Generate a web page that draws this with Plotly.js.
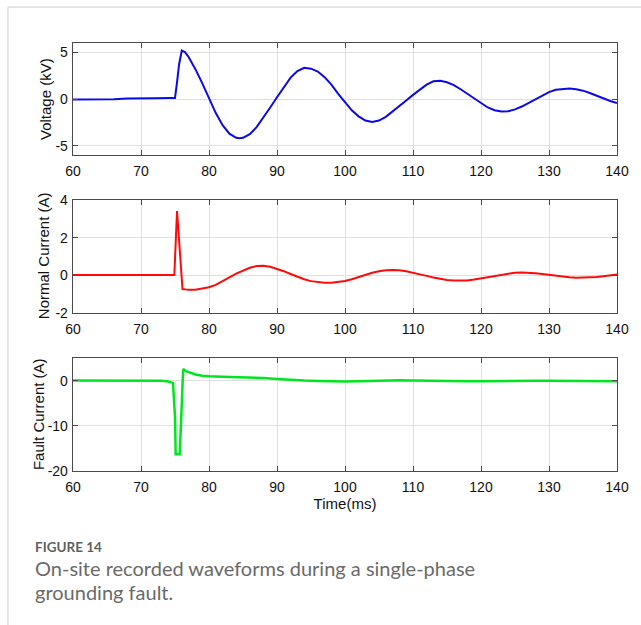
<!DOCTYPE html>
<html>
<head>
<meta charset="utf-8">
<script src="https://cdn.plot.ly/plotly-3.0.1.min.js"></script>
<style>
  html, body { margin: 0; padding: 0; background: #ffffff; }
  #chart { width: 641px; height: 625px; }
</style>
</head>
<body>
<div id="chart"></div>
<script>
// ---- Data ----
const timeV = [60,62,64,66,68,70,72,74,75,75.3,75.6,76,76.5,77,78,79,80,81,82,83,84,84.5,85,86,87,88,89,90,
  91,92,93,94,95,96,97,98,99,100,101,102,103,104,105,106,107,108,109,110,111,112,113,114,115,116,117,118,119,120,
  121,122,123,124,125,126,127,128,129,130,131,132,133,134,135,136,137,138,139,140];
const voltage = [-0.05,-0.05,-0.05,-0.03,0.05,0.1,0.1,0.12,0.12,1.8,3.7,5.2,5.0,4.5,3.2,1.7,0.05,-1.5,-2.8,-3.7,-4.15,-4.2,-4.15,-3.75,-3.0,-2.0,-0.9,0.2,
  1.3,2.3,3.0,3.35,3.25,2.95,2.35,1.55,0.55,-0.35,-1.2,-1.85,-2.3,-2.45,-2.3,-1.9,-1.35,-0.75,-0.15,0.45,1.05,1.55,1.9,1.95,1.8,1.5,1.05,0.55,0.05,-0.45,
  -0.9,-1.2,-1.34,-1.3,-1.1,-0.8,-0.4,0.0,0.4,0.75,1.0,1.1,1.12,1.05,0.9,0.65,0.35,0.05,-0.2,-0.42];

const timeN = [60,70,74.9,75.3,76.1,76.5,77,78,79,80,81,82,83,84,85,86,87,88,89,90,
  91,92,93,94,95,96,97,98,99,100,101,102,103,104,105,106,107,108,109,110,111,112,113,114,115,116,117,118,119,120,
  121,122,123,124,125,126,127,128,129,130,131,132,133,134,135,136,137,138,139,140];
const normalCurrent = [0,0,0,3.42,-0.74,-0.76,-0.78,-0.78,-0.72,-0.65,-0.52,-0.34,-0.12,0.08,0.25,0.39,0.48,0.5,0.45,0.35,
  0.21,0.06,-0.09,-0.22,-0.32,-0.38,-0.41,-0.41,-0.37,-0.31,-0.22,-0.1,0.02,0.13,0.21,0.26,0.27,0.26,0.21,0.14,0.05,-0.04,-0.13,-0.2,-0.26,-0.29,-0.3,-0.28,-0.23,-0.17,
  -0.1,-0.03,0.04,0.1,0.13,0.14,0.13,0.1,0.06,0.01,-0.04,-0.09,-0.12,-0.14,-0.14,-0.13,-0.1,-0.06,-0.01,0.03];

const timeF = [60,70,73,74,74.7,75.0,75.1,75.7,75.9,76.2,76.6,77.2,78,79,80,82,84,86,88,90,92,94,96,98,100,
  102,104,106,108,110,112,114,116,118,120,122,124,126,128,130,132,134,136,138,140];
const faultCurrent = [0,0,-0.05,-0.2,-0.5,-8,-16.3,-16.3,-8,2.55,2.1,1.7,1.35,1.1,0.95,0.85,0.78,0.68,0.55,0.37,0.15,0.0,-0.1,-0.2,-0.2,
  -0.12,-0.02,0.05,0.07,0.03,-0.05,-0.12,-0.15,-0.15,-0.13,-0.07,-0.02,0.0,-0.01,-0.04,-0.08,-0.12,-0.14,-0.15,-0.14];

const xTicks = [60,70,80,90,100,110,120,130,140];
const xTickText = ['60','70','80','90','100','110','120','130','140'];
const yTicksV = [-5,0,5];
const yTickTextV = ['-5','0','5'];
const yTicksN = [-2,0,2,4];
const yTickTextN = ['-2','0','2','4'];
const yTicksF = [-20,-10,0];
const yTickTextF = ['-20','-10','0'];
const titleVoltage = 'Voltage (kV)';
const titleNormal = 'Normal Current (A)';
const titleFault = 'Fault Current (A)';
const titleTime = 'Time(ms)';
const captionHead = 'FIGURE 14';
const captionLine1 = 'On-site recorded waveforms during a single-phase';
const captionLine2 = 'grounding fault.';

// ---- Styling ----
const tickFont = {family: 'Liberation Sans, Arial, sans-serif', size: 14, color: '#111111'};
const titleFont = {family: 'Liberation Sans, Arial, sans-serif', size: 15, color: '#111111'};
const capFont = 'Lato, Open Sans, sans-serif';

function xAxis(anchor) {
  return {
    anchor: anchor, range: [60, 140], tickmode: 'array', tickvals: xTicks, ticktext: xTickText,
    ticks: 'inside', ticklen: 5, tickcolor: '#4a4a4a', tickwidth: 1, ticklabelstandoff: 3,
    showline: true, linecolor: '#4a4a4a', linewidth: 1.3, mirror: 'ticks',
    showgrid: true, gridcolor: '#e0e0e0', gridwidth: 1, zeroline: false,
    tickfont: tickFont, fixedrange: true
  };
}
function yAxis(anchor, domain, range, tv, tt) {
  return {
    anchor: anchor, domain: domain, range: range, tickmode: 'array', tickvals: tv, ticktext: tt,
    ticks: 'inside', ticklen: 5, tickcolor: '#4a4a4a', tickwidth: 1, ticklabelstandoff: 1,
    showline: true, linecolor: '#4a4a4a', linewidth: 1.3, mirror: 'ticks',
    showgrid: true, gridcolor: '#e0e0e0', gridwidth: 1, zeroline: false,
    tickfont: tickFont, fixedrange: true
  };
}

const traces = [
  {x: timeV, y: voltage, xaxis: 'x', yaxis: 'y', mode: 'lines', line: {color: '#0a0ae6', width: 2}, hoverinfo: 'skip'},
  {x: timeN, y: normalCurrent, xaxis: 'x2', yaxis: 'y2', mode: 'lines', line: {color: '#ff0a0a', width: 2}, hoverinfo: 'skip'},
  {x: timeF, y: faultCurrent, xaxis: 'x3', yaxis: 'y3', mode: 'lines', line: {color: '#00e61e', width: 2.5}, hoverinfo: 'skip'}
];

const x3 = xAxis('y3');
x3.title = {text: titleTime, font: titleFont, standoff: 3};

function yTitle(text, x, y) {
  return {text: text, xref: 'paper', yref: 'paper', x: x, y: y, xanchor: 'center', yanchor: 'middle',
          textangle: -90, showarrow: false, font: titleFont};
}

const layout = {
  width: 641, height: 625,
  margin: {l: 73, r: 24, t: 43, b: 154, autoexpand: false},
  paper_bgcolor: '#ffffff', plot_bgcolor: '#ffffff',
  showlegend: false,
  xaxis: xAxis('y'),
  xaxis2: xAxis('y2'),
  xaxis3: x3,
  yaxis: yAxis('x', [0.738, 1.0], [-6, 6], yTicksV, yTickTextV),
  yaxis2: yAxis('x2', [0.370, 0.633], [-2, 4], yTicksN, yTickTextN),
  yaxis3: yAxis('x3', [0.0, 0.264], [-20, 5], yTicksF, yTickTextF),
  shapes: [
    {type: 'line', xref: 'paper', yref: 'paper', x0: -0.1195, x1: 1.05, y0: 1.084, y1: 1.084, line: {color: '#cfcfcf', width: 1}},
    {type: 'line', xref: 'paper', yref: 'paper', x0: -0.1195, x1: -0.1195, y0: 1.084, y1: -0.4, line: {color: '#cfcfcf', width: 1}}
  ],
  annotations: [
    yTitle(titleVoltage, -0.0515, 0.869),
    yTitle(titleNormal, -0.0551, 0.502),
    yTitle(titleFault, -0.0643, 0.133),
    {text: captionHead, xref: 'paper', yref: 'paper', x: -0.0735, y: -0.178, xanchor: 'left', yanchor: 'middle', showarrow: false,
     font: {family: capFont, size: 13.5, color: '#5f5f5f', weight: 700}},
    {text: captionLine1, xref: 'paper', yref: 'paper', x: -0.0735, y: -0.227, xanchor: 'left', yanchor: 'middle', showarrow: false,
     font: {family: capFont, size: 20, color: '#6a6a6a'}},
    {text: captionLine2, xref: 'paper', yref: 'paper', x: -0.0735, y: -0.283, xanchor: 'left', yanchor: 'middle', showarrow: false,
     font: {family: capFont, size: 20, color: '#6a6a6a'}}
  ]
};

Plotly.newPlot('chart', traces, layout, {staticPlot: true, displayModeBar: false});
</script>
</body>
</html>
